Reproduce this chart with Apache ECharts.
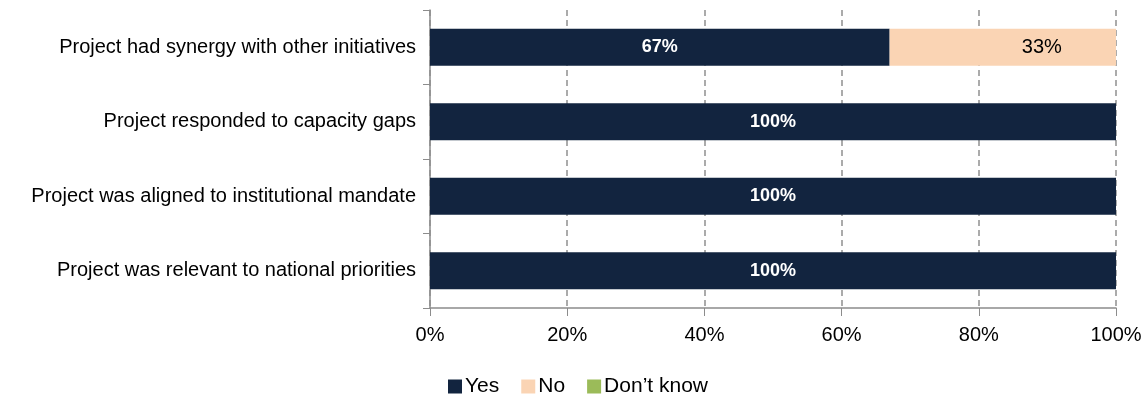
<!DOCTYPE html>
<html>
<head>
<meta charset="utf-8">
<script src="https://cdn.jsdelivr.net/npm/echarts@6/dist/echarts.min.js"></script>
<style>
  html, body { margin: 0; padding: 0; background: #fff; }
  #chart { width: 1148px; height: 396px; }
</style>
</head>
<body>
<div id="chart"></div>
<script>
// top to bottom
const categories = [
  'Project had synergy with other initiatives',
  'Project responded to capacity gaps',
  'Project was aligned to institutional mandate',
  'Project was relevant to national priorities'
]
const yesValues = [67, 100, 100, 100]
const noValues = [33, 0, 0, 0]
const dontKnowValues = [0, 0, 0, 0]

const font = '"Liberation Sans", Arial, sans-serif'
const axisGrey = '#8c8c8c'

const hideZero = (p) => (p.value > 0 ? p.value + '%' : '')

const chart = echarts.init(document.getElementById('chart'), null, { renderer: 'canvas' })

chart.setOption({
  animation: false,
  textStyle: { fontFamily: font },
  grid: { left: 430, right: 32, top: 10, bottom: 88, containLabel: false },
  legend: {
    top: 376,
    left: 448,
    padding: 0,
    itemWidth: 14,
    itemHeight: 14,
    itemGap: 22,
    icon: 'rect',
    textStyle: { fontFamily: font, fontSize: 21, color: '#000', padding: [0, 0, 0, -2] },
    data: ['Yes', 'No', 'Don\u2019t know']
  },
  xAxis: {
    type: 'value',
    min: 0,
    max: 100,
    interval: 20,
    axisLine: { show: true, lineStyle: { color: axisGrey, width: 1.5 } },
    axisTick: { show: true, length: 8, lineStyle: { color: axisGrey } },
    axisLabel: { formatter: '{value}%', color: '#000', fontSize: 20, margin: 17 },
    splitLine: { show: true, lineStyle: { color: '#909090', type: [6, 4], width: 1.5 } }
  },
  yAxis: {
    type: 'category',
    inverse: true,
    data: categories,
    axisLine: { show: true, lineStyle: { color: axisGrey, width: 1.5 } },
    axisTick: { show: true, length: 7, lineStyle: { color: axisGrey } },
    axisLabel: { color: '#000', fontSize: 20, margin: 14 }
  },
  series: [
    {
      name: 'Yes',
      type: 'bar',
      stack: 'total',
      barWidth: 37,
      data: yesValues,
      itemStyle: { color: '#12243f' },
      label: { show: true, position: 'inside', color: '#fff', fontWeight: 'bold', fontSize: 18, formatter: hideZero }
    },
    {
      name: 'No',
      type: 'bar',
      stack: 'total',
      barWidth: 37,
      data: noValues,
      itemStyle: { color: '#fad4b4' },
      label: { show: true, position: 'inside', offset: [39, 0], color: '#000', fontSize: 20, formatter: hideZero }
    },
    {
      name: 'Don\u2019t know',
      type: 'bar',
      stack: 'total',
      barWidth: 37,
      data: dontKnowValues,
      itemStyle: { color: '#9bbb59' },
      label: { show: false }
    }
  ]
})
</script>
</body>
</html>
